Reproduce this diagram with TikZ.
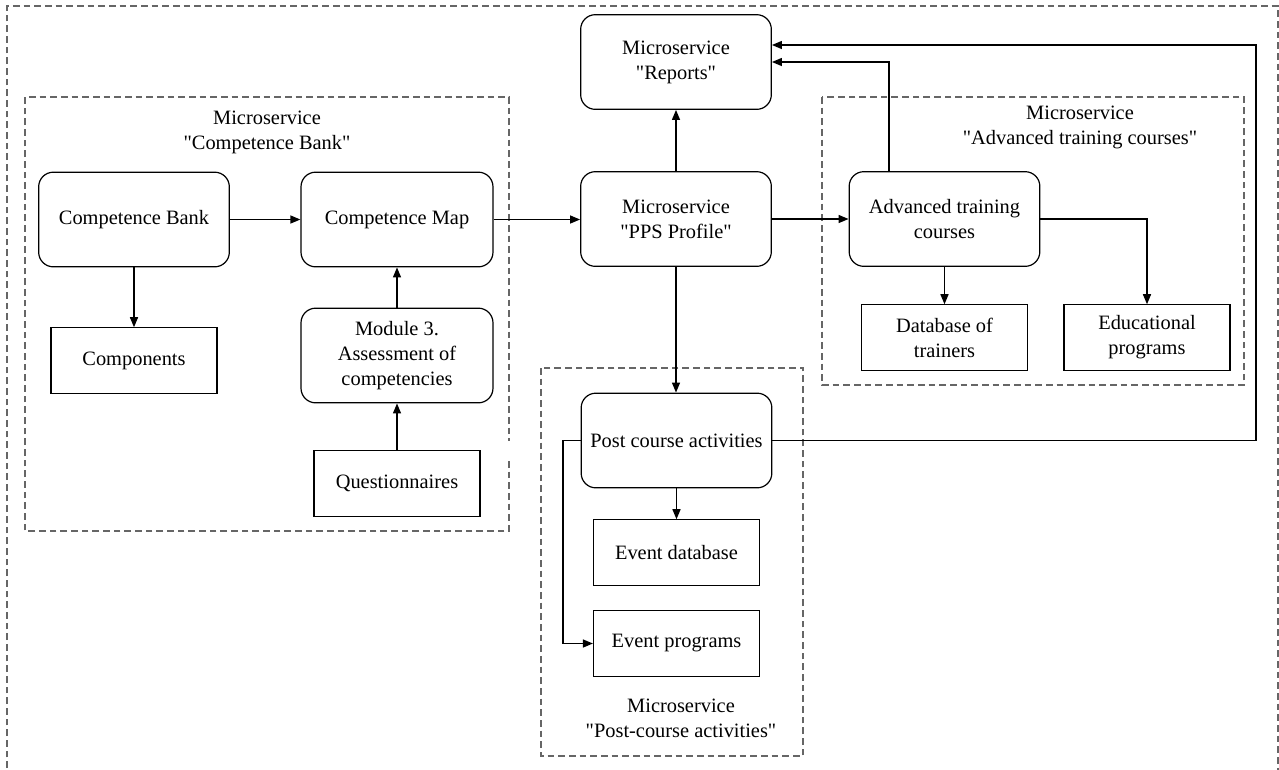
\documentclass[tikz,border=0pt]{standalone}
\usepackage{fontspec}
\setmainfont{Liberation Serif}
\usetikzlibrary{arrows.meta}
\newcommand\dq{\XeTeXglyph\the\XeTeXcharglyph"22\relax}
\begin{document}
\begin{tikzpicture}[x=0.75pt,y=-0.75pt,
  every node/.style={font=\fontsize{15.3}{18.8}\selectfont, align=center, inner sep=0pt},
  rbox/.style={draw=black, line width=0.9pt, rounded corners=11pt, minimum width=143pt, minimum height=71pt},
  sbox/.style={draw=black, line width=0.9pt, minimum width=124.5pt, minimum height=49pt},
  grp/.style={draw=black!60, line width=0.9pt, dash pattern=on 5pt off 3pt},
  conn/.style={draw=black, line width=1pt, -{Triangle[length=7.5pt,width=6pt]}},
  plain/.style={draw=black, line width=1pt}
]
\useasboundingbox (0,0) rectangle (1279,769);
\fill[white] (0,0) rectangle (1279,769);

% outer frame (bottom runs off the page)
\draw[grp] (7,800) -- (7,6) -- (1278,6) -- (1278,800);

% groups
\draw[grp] (509,461) -- (509,531) -- (25,531) -- (25,97) -- (509,97) -- (509,441);
\draw[grp] (822,97) rectangle (1244,385);
\draw[grp] (541,368) rectangle (803,756);

\node (tcb) at (267,132.5) {Microservice\\\dq Competence Bank\dq};
\node (tatc) at (1080,127) {Microservice\\\dq Advanced training courses\dq};
\node (tpc) at (681,718) {Microservice\\\dq Post-course activities\dq};

% nodes
\node[rbox] (cb) at (134,219.5) {Competence Bank};
\node[rbox, minimum width=144pt] (cm) at (397,219.5) {Competence Map};
\node[sbox] (comp) at (134,360.5) {Components};
\node[rbox, minimum width=144pt] (mod) at (397,355.5) {Module 3.\\Assessment of\\competencies};
\node[sbox] (quest) at (397,483.5) {Questionnaires};
\node[rbox] (rep) at (676,62) {Microservice\\\dq Reports\dq};
\node[rbox] (pps) at (676,219) {Microservice\\\dq PPS Profile\dq};
\node[rbox] (atc) at (944.5,219) {Advanced training\\courses};
\node[sbox] (dbt) at (944.5,337.5) {Database of\\trainers};
\node[sbox] (edu) at (1147,337.5) {Educational\\programs};
\node[rbox] (pca) at (676.5,440.5) {Post course activities};
\node[sbox] (evdb) at (676.5,552.5) {Event database};
\node[sbox] (evpr) at (676.5,643.5) {Event programs};

% helper coordinates
\coordinate (rt) at (1256,440.5);
\coordinate (rtop) at (1256,45);
\coordinate (lb) at (563,440.5);
\coordinate (atop) at (889,172);

% connectors
\draw[conn] (cb.east) -- (cm.west);
\draw[conn] (cm.east) -- (cm.east -| pps.west);
\draw[conn] (cb.south) -- (comp.north);
\draw[conn] (quest.north) -- (mod.south);
\draw[conn] (mod.north) -- (cm.south);
\draw[conn] (pps.north) -- (rep.south);
\draw[conn] (pps.east) -- (atc.west);
\draw[conn] (pps.south) -- (pps.south |- pca.north);
\draw[conn] (atop) |- (rep.east);
\draw[conn] (pca.east) -- (rt) -- (rtop) -- (rtop -| rep.east);
\draw[conn] (pca.west) -- (lb) |- (evpr.west);
\draw[conn] (pca.south) -- (pca.south |- evdb.north);
\draw[conn] (atc.south) -- (dbt.north);
\draw[conn] (atc.east) -| (edu.north);
\end{tikzpicture}
\end{document}
